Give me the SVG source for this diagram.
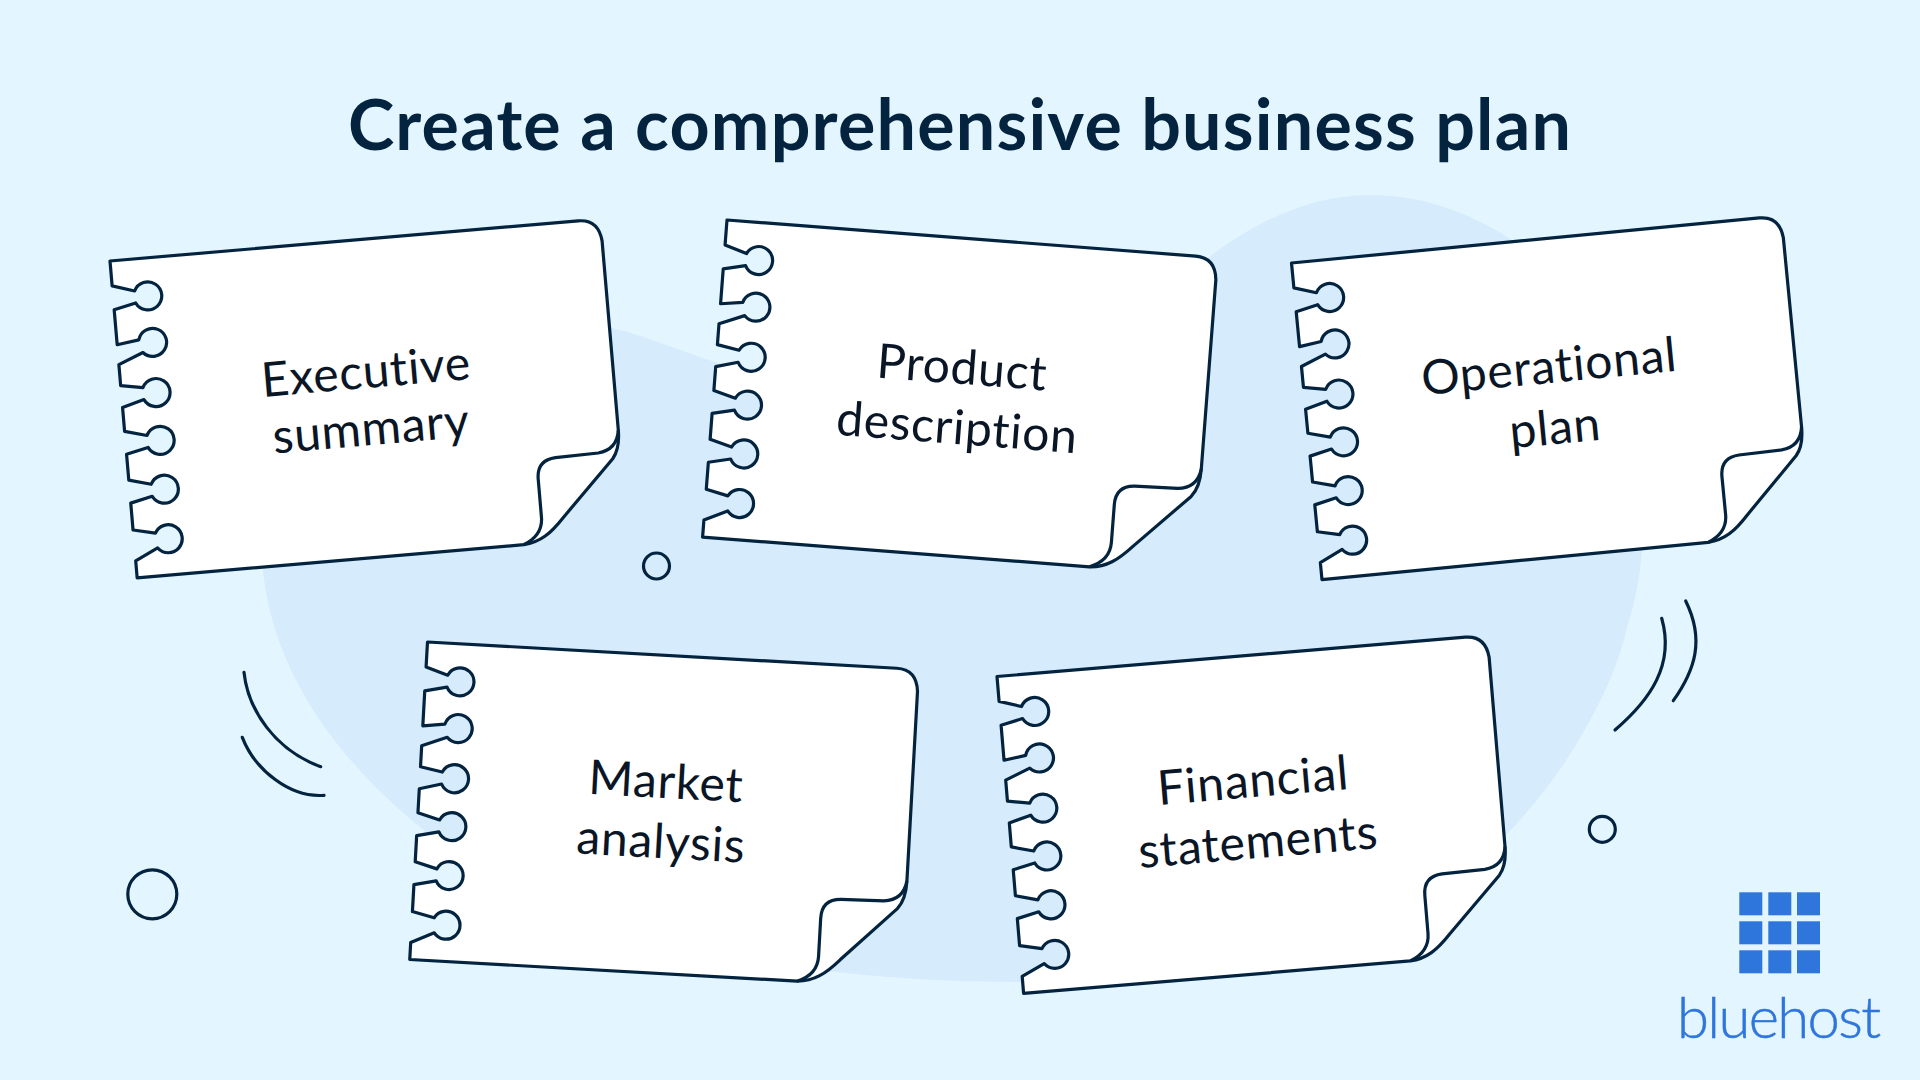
<svg xmlns="http://www.w3.org/2000/svg" width="1920" height="1080" viewBox="0 0 1920 1080">
<style>
text{font-variant-ligatures:none}
.ink{fill:none;stroke:#03233f;stroke-width:3.2;stroke-linecap:round;stroke-linejoin:round}
.page{fill:#fff;stroke:#03233f;stroke-width:3.2;stroke-linejoin:round}
.lbl{font-family:Lato,"Noto Sans",sans-serif;font-size:48px;letter-spacing:.7px;fill:#0a1626;text-anchor:middle}
.title{font-family:Lato,"Noto Sans",sans-serif;font-weight:700;font-size:70px;letter-spacing:1.2px;fill:#03233f;text-anchor:middle}
.sq{fill:#2e75dc}
</style>
<defs>
<g id="page">
<path class="page" d="M0 0H470Q490 0 492 22V212C492 226 489 234 484 240L430 294C416 309 405 317 388 318H0V301L23 290A14 14 0 1 0 22 275L0 270V243L22 238A14 14 0 1 0 22 226L0 220V194L22 189A14 14 0 1 0 22 177L0 171V147L22 141A14 14 0 1 0 22 129L0 125V104L25 94A14 14 0 1 0 22 81L0 84V49L22 44A14 14 0 1 0 22 32L0 25Z"/>
<path class="page" d="M492 212C490 226 482 232 470 233L427 234Q408 235 408 254L408 292C408 304 401 313 388 318"/>
</g>
</defs>
<rect width="1920" height="1080" fill="#e3f5ff"/>
<path id="blob" fill="#d6ecfd" d="M262 560C270 680 350 770 420 827C480 880 560 930 800 968C880 978 950 982 1020 982C1200 982 1380 945 1506 835C1535 805 1562 770 1583 733C1605 695 1620 660 1627 627C1636 600 1640 575 1642 550C1660 400 1600 310 1512 240C1470 212 1420 195 1370 195C1310 195 1255 222 1208 258C1100 360 900 400 760 375C700 360 655 338 612 328C450 290 262 420 262 560Z"/>
<g id="title"><text class="title" x="960" y="150">Create a comprehensive business plan</text></g>
<g id="decorations">
<circle class="ink" cx="656.5" cy="566" r="13"/>
<circle class="ink" cx="152.3" cy="894.3" r="24.5"/>
<circle class="ink" cx="1602.3" cy="829.3" r="13"/>
<path class="ink" d="M244 672.3C248 710 275 750 320.7 766.7"/>
<path class="ink" d="M242.3 737.3C255 770 290 798 324 795.3"/>
<path class="ink" d="M1661.7 618.3C1675 665 1650 700 1615 730"/>
<path class="ink" d="M1685.7 601C1705 640 1695 670 1673.3 700.7"/>
</g>
<g id="note-executive"><use href="#page" transform="translate(110 261) rotate(-4.9)"/>
<text class="lbl" transform="translate(366 372) rotate(-4.9)" y="16">Executive</text>
<text class="lbl" transform="translate(371 429) rotate(-4.9)" y="16">summary</text></g>
<g id="note-product"><use href="#page" transform="translate(727 220) rotate(4.4)"/>
<text class="lbl" transform="translate(962 368) rotate(4.4)" y="16">Product</text>
<text class="lbl" transform="translate(957 428) rotate(4.4)" y="16">description</text></g>
<g id="note-operational"><use href="#page" transform="translate(1291.5 263) rotate(-5.5)"/>
<text class="lbl" transform="translate(1549 367) rotate(-5.5)" y="16">Operational</text>
<text class="lbl" transform="translate(1555 428) rotate(-5.5)" y="16">plan</text></g>
<g id="note-market"><use href="#page" transform="translate(427.5 642) rotate(3.2)"/>
<text class="lbl" transform="translate(666 782) rotate(3.2)" y="16">Market</text>
<text class="lbl" transform="translate(661 842) rotate(3.2)" y="16">analysis</text></g>
<g id="note-financial"><use href="#page" transform="translate(997 676.5) rotate(-4.8)"/>
<text class="lbl" transform="translate(1253 781) rotate(-4.8)" y="16">Financial</text>
<text class="lbl" transform="translate(1258 842) rotate(-4.8)" y="16">statements</text></g>
<g id="logo">
<rect class="sq" x="1739.3" y="892.3" width="23" height="23"/><rect class="sq" x="1768.3" y="892.3" width="23" height="23"/><rect class="sq" x="1797" y="892.3" width="23" height="23"/>
<rect class="sq" x="1739.3" y="921.3" width="23" height="23"/><rect class="sq" x="1768.3" y="921.3" width="23" height="23"/><rect class="sq" x="1797" y="921.3" width="23" height="23"/>
<rect class="sq" x="1739.3" y="950.3" width="23" height="23"/><rect class="sq" x="1768.3" y="950.3" width="23" height="23"/><rect class="sq" x="1797" y="950.3" width="23" height="23"/>
<text x="1677" y="1038" textLength="204" font-family="Lato,'Noto Sans',sans-serif" font-weight="300" font-size="58" fill="#2e75dc" stroke="#2e75dc" stroke-width=".5">bluehost</text>
</g>
</svg>
